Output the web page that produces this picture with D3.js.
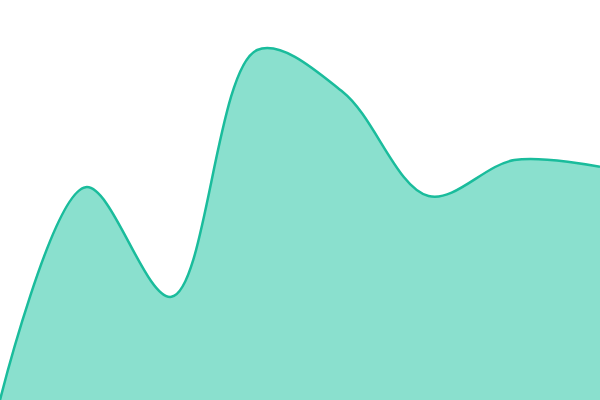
<!DOCTYPE html>
<html>
<head>
<meta charset="utf-8">
<script src="https://cdn.jsdelivr.net/npm/d3@7"></script>
<style>
  html, body { margin: 0; padding: 0; background: #fff; }
  svg { display: block; }
</style>
</head>
<body>
<svg id="chart"></svg>
<script>
const steps = [0, 1, 2, 3, 4, 5, 6, 7];
const values = [0, 53.2, 25.8, 87.5, 77, 51, 60, 58.3];

const width = 600;
const height = 400;

const data = steps.map((s, i) => ({ step: s, value: values[i] }));

const x = d3.scaleLinear().domain(d3.extent(steps)).range([0, width]);
const y = d3.scaleLinear().domain([0, 100]).range([height, 0]);

const svg = d3.select("#chart").attr("width", width).attr("height", height);

const area = d3
  .area()
  .x((d) => x(d.step))
  .y0(y(0))
  .y1((d) => y(d.value))
  .curve(d3.curveCatmullRom);

const line = d3
  .line()
  .x((d) => x(d.step))
  .y((d) => y(d.value))
  .curve(d3.curveCatmullRom);

svg.append("path").datum(data).attr("d", area).attr("fill", "#8ae0ce");

svg
  .append("path")
  .datum(data)
  .attr("d", line)
  .attr("fill", "none")
  .attr("stroke", "#1abc9c")
  .attr("stroke-width", 2.5);
</script>
</body>
</html>
